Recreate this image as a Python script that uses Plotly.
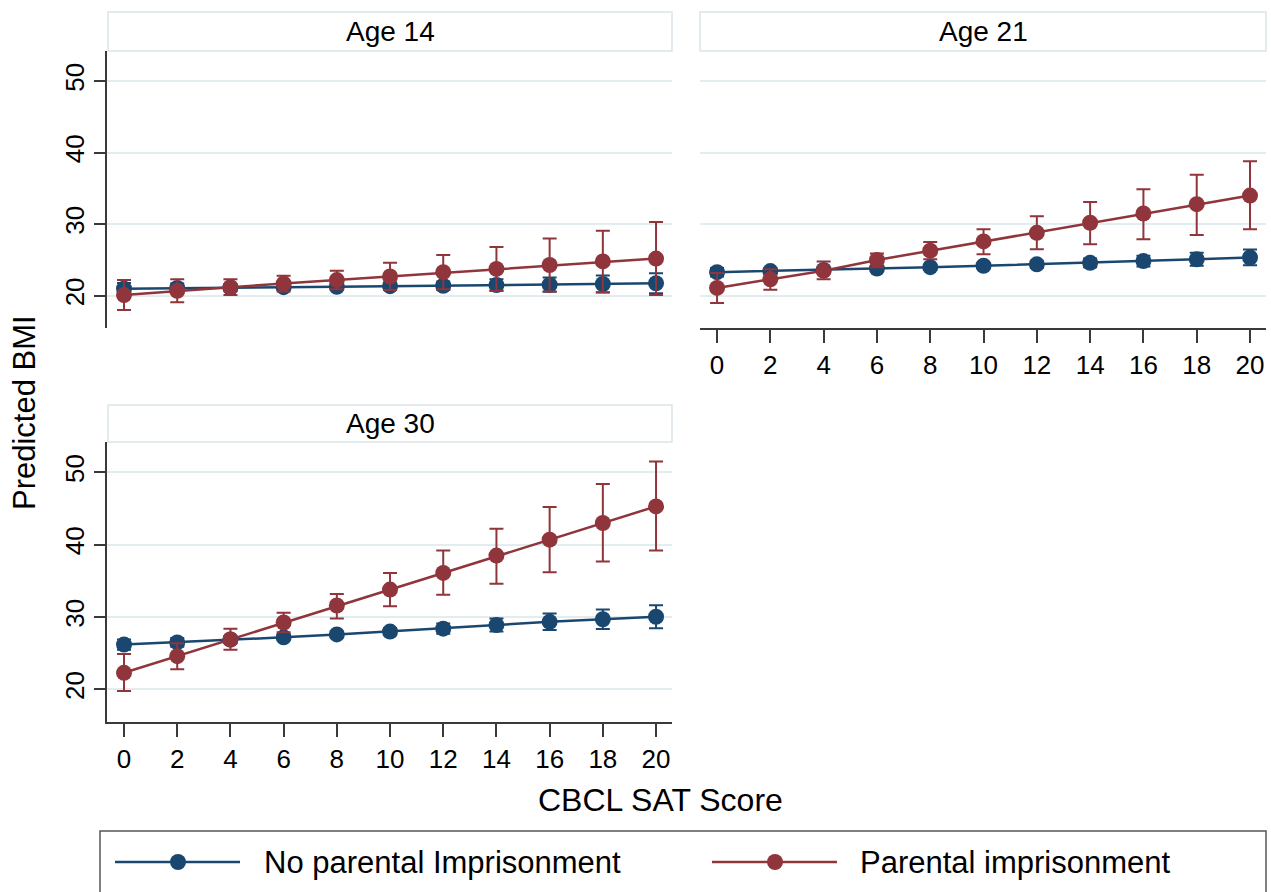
import plotly.graph_objects as go

# CBCL SAT score grid
sat_score = [0, 2, 4, 6, 8, 10, 12, 14, 16, 18, 20]
panel_titles = ["Age 14", "Age 21", "Age 30"]
series_names = ["No parental Imprisonment", "Parental imprisonment"]
y_ticks = [20, 30, 40, 50]

# Age 14: predicted BMI with 95% CI
age14_none_est = [21.0, 21.1, 21.15, 21.2, 21.25, 21.35, 21.4, 21.5, 21.55, 21.65, 21.75]
age14_none_lo = [20.2, 20.5, 20.65, 20.8, 20.85, 20.85, 20.8, 20.7, 20.55, 20.45, 20.35]
age14_none_hi = [21.8, 21.7, 21.65, 21.6, 21.65, 21.85, 22.0, 22.3, 22.55, 22.85, 23.15]
age14_par_est = [20.1, 20.7, 21.2, 21.7, 22.2, 22.7, 23.3, 23.75, 24.3, 24.8, 25.2]
age14_par_lo = [18.0, 19.1, 20.1, 20.6, 20.9, 20.8, 20.9, 20.7, 20.6, 20.5, 20.1]
age14_par_hi = [22.2, 22.3, 22.3, 22.8, 23.5, 24.6, 25.7, 26.8, 28.0, 29.1, 30.3]

# Age 21
age21_none_est = [23.3, 23.45, 23.6, 23.8, 24.0, 24.2, 24.4, 24.6, 24.85, 25.1, 25.35]
age21_none_lo = [22.7, 23.0, 23.2, 23.45, 23.65, 23.8, 23.9, 24.0, 24.1, 24.2, 24.25]
age21_none_hi = [23.9, 23.9, 24.0, 24.15, 24.35, 24.6, 24.9, 25.2, 25.6, 26.0, 26.45]
age21_par_est = [21.1, 22.3, 23.5, 25.0, 26.3, 27.6, 28.8, 30.2, 31.5, 32.8, 34.0]
age21_par_lo = [19.0, 20.85, 22.3, 24.0, 25.1, 25.8, 26.5, 27.2, 27.9, 28.5, 29.3]
age21_par_hi = [23.2, 23.7, 24.8, 25.9, 27.5, 29.3, 31.1, 33.1, 34.9, 36.9, 38.8]

# Age 30
age30_none_est = [26.2, 26.5, 26.9, 27.2, 27.6, 28.0, 28.4, 28.9, 29.35, 29.7, 30.05]
age30_none_lo = [25.5, 25.9, 26.4, 26.8, 27.2, 27.5, 27.7, 28.0, 28.2, 28.35, 28.45]
age30_none_hi = [26.9, 27.1, 27.4, 27.6, 28.0, 28.5, 29.1, 29.8, 30.5, 31.05, 31.65]
age30_par_est = [22.3, 24.6, 26.9, 29.25, 31.6, 33.8, 36.1, 38.5, 40.7, 43.0, 45.3]
age30_par_lo = [19.8, 22.8, 25.5, 27.9, 29.8, 31.5, 33.1, 34.6, 36.2, 37.7, 39.2]
age30_par_hi = [24.9, 26.4, 28.4, 30.6, 33.2, 36.1, 39.2, 42.2, 45.2, 48.4, 51.5]

NAVY = "#1a476f"
MAROON = "#90353b"
GRID = "#e3ecef"
AXIS = "#3a3a3a"
FONT = "Liberation Sans, Arial, sans-serif"
W, H = 1271, 892


def px_x(v):
    return v / W


def px_y(v):
    return 1 - v / H


panels = [
    dict(title=panel_titles[0], xa="x", ya="y",
         series=[(age14_none_est, age14_none_lo, age14_none_hi),
                 (age14_par_est, age14_par_lo, age14_par_hi)]),
    dict(title=panel_titles[1], xa="x2", ya="y2",
         series=[(age21_none_est, age21_none_lo, age21_none_hi),
                 (age21_par_est, age21_par_lo, age21_par_hi)]),
    dict(title=panel_titles[2], xa="x3", ya="y3",
         series=[(age30_none_est, age30_none_lo, age30_none_hi),
                 (age30_par_est, age30_par_lo, age30_par_hi)]),
]

fig = go.Figure()
colors = [NAVY, MAROON]
for p in panels:
    for (est, lo, hi), color, name in zip(p["series"], colors, series_names):
        fig.add_trace(go.Scatter(
            x=sat_score, y=est, xaxis=p["xa"], yaxis=p["ya"],
            mode="lines+markers", name=name, showlegend=False,
            line=dict(color=color, width=2.5),
            marker=dict(color=color, size=16, line=dict(width=0)),
            error_y=dict(type="data", symmetric=False,
                         array=[h - e for h, e in zip(hi, est)],
                         arrayminus=[e - l for e, l in zip(est, lo)],
                         color=color, thickness=2, width=7),
            cliponaxis=False,
        ))

x_range = [-0.64, 20.6]
y_range = [15.5, 54.2]
col1 = [px_x(107), px_x(672)]
col2 = [px_x(700), px_x(1266)]
row1 = [px_y(328), px_y(51)]
row2 = [px_y(722), px_y(442)]

xbase = dict(range=x_range, tickvals=sat_score, showgrid=False, zeroline=False,
             tickfont=dict(size=26, family=FONT, color="black"))
ybase = dict(range=y_range, tickvals=y_ticks, showgrid=True, gridcolor=GRID,
             gridwidth=2, zeroline=False, tickangle=-90,
             tickfont=dict(size=26, family=FONT, color="black"))

fig.update_layout(
    width=W, height=H,
    margin=dict(l=0, r=0, t=0, b=0),
    paper_bgcolor="white", plot_bgcolor="white",
    showlegend=False,
    font=dict(family=FONT, color="black"),
    xaxis=dict(xbase, domain=col1, anchor="y", showticklabels=False,
               ticks="", showline=False),
    yaxis=dict(ybase, domain=row1, anchor="x", showline=True, linecolor=AXIS,
               linewidth=1.5, ticks="outside", ticklen=11, tickwidth=1.5,
               tickcolor=AXIS),
    xaxis2=dict(xbase, domain=col2, anchor="y2", showline=True, linecolor=AXIS,
                linewidth=1.5, ticks="outside", ticklen=13, tickwidth=1.5,
                tickcolor=AXIS),
    yaxis2=dict(ybase, domain=row1, anchor="x2", showticklabels=False,
                ticks="", showline=False),
    xaxis3=dict(xbase, domain=col1, anchor="y3", showline=True, linecolor=AXIS,
                linewidth=1.5, ticks="outside", ticklen=13, tickwidth=1.5,
                tickcolor=AXIS),
    yaxis3=dict(ybase, domain=row2, anchor="x3", showline=True, linecolor=AXIS,
                linewidth=1.5, ticks="outside", ticklen=11, tickwidth=1.5,
                tickcolor=AXIS),
)

shapes = []
annotations = []

# Panel strips
strips = [(108, 672, 12, 51), (700, 1266, 12, 51), (108, 672, 405, 442)]
for (x0, x1, y0, y1), p in zip(strips, panels):
    shapes.append(dict(type="rect", xref="paper", yref="paper",
                       x0=px_x(x0), x1=px_x(x1), y0=px_y(y1), y1=px_y(y0),
                       fillcolor="white", line=dict(color="#dbe5e9", width=1.5),
                       layer="below"))
    annotations.append(dict(text=p["title"], xref="paper", yref="paper",
                            x=px_x((x0 + x1) / 2), y=px_y((y0 + y1) / 2),
                            showarrow=False, xanchor="center", yanchor="middle",
                            font=dict(size=28, family=FONT, color="black")))

# Axis titles
annotations.append(dict(text="CBCL SAT Score", xref="paper", yref="paper",
                        x=px_x(660), y=px_y(800), showarrow=False,
                        xanchor="center", yanchor="middle",
                        font=dict(size=32, family=FONT, color="black")))
annotations.append(dict(text="Predicted BMI", xref="paper", yref="paper",
                        x=px_x(24), y=px_y(413), showarrow=False, textangle=-90,
                        xanchor="center", yanchor="middle",
                        font=dict(size=31, family=FONT, color="black")))

# Legend box with keys
shapes.append(dict(type="rect", xref="paper", yref="paper",
                   x0=px_x(100), x1=px_x(1266), y0=px_y(900), y1=px_y(831),
                   fillcolor="white", line=dict(color="#555555", width=1.5)))
legend_keys = [(115, 240, 178, 262), (712, 837, 775, 858)]
for (lx0, lx1, mx, tx), color, name in zip(legend_keys, colors, series_names):
    ly = px_y(862)
    shapes.append(dict(type="line", xref="paper", yref="paper",
                       x0=px_x(lx0), x1=px_x(lx1), y0=ly, y1=ly,
                       line=dict(color=color, width=2.5)))
    shapes.append(dict(type="circle", xref="paper", yref="paper",
                       xsizemode="pixel", ysizemode="pixel",
                       xanchor=px_x(mx), yanchor=ly,
                       x0=-8, x1=8, y0=-8, y1=8,
                       fillcolor=color, line=dict(color=color, width=0)))
    annotations.append(dict(text=name, xref="paper", yref="paper",
                            x=px_x(tx), y=ly, showarrow=False,
                            xanchor="left", yanchor="middle",
                            font=dict(size=31, family=FONT, color="black")))

fig.update_layout(shapes=shapes, annotations=annotations)

fig.write_html("out.html")
